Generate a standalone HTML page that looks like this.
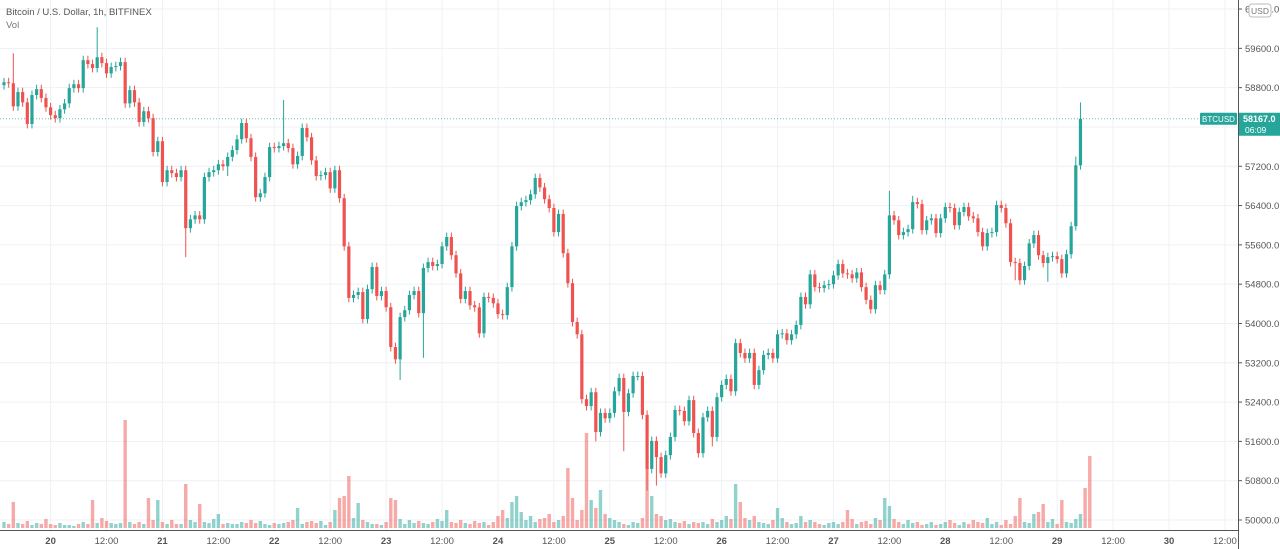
<!DOCTYPE html>
<html><head><meta charset="utf-8"><style>
html,body{margin:0;padding:0;background:#fff;width:1280px;height:549px;overflow:hidden;font-family:"Liberation Sans",sans-serif;}
svg{display:block}
</style></head><body>
<svg id="chart" width="1280" height="549" xmlns="http://www.w3.org/2000/svg"></svg>
<script>
// ---- data ----
const closes = [
58910,58890,58420,58710,58500,58060,58650,58770,58590,58400,58240,58180,58360,58480,58790,58870,58790,59360,59280,59200,59420,59300,59090,59220,59240,59320,58480,58750,58500,58100,58320,58180,57490,57710,56880,57120,57060,56980,57120,55940,56120,56200,56120,56980,57080,57120,57240,57200,57390,
57530,57750,58080,57770,57390,56570,56650,56980,57590,57570,57610,57670,57570,57240,57410,57980,57790,57320,57000,57020,57080,56750,57120,56550,55570,54520,54580,54640,54090,54700,55150,54560,54660,54330,53520,53270,54130,54270,54580,54660,54210,55130,55250,55170,55210,55570,55760,55390,55020,
54500,54660,54370,54330,53800,54540,54520,54410,54190,54170,54740,55570,56390,56470,56510,56630,56960,56770,56530,56350,55860,56230,55430,54820,54030,53780,52460,52320,52600,51790,52180,52070,52180,52620,52890,52200,52580,52930,52930,52140,51040,51610,51280,50950,51320,51690,52240,52220,
52010,52440,51770,51360,52090,52220,51690,52500,52750,52870,52620,53600,53400,53290,53400,52750,53050,53360,53400,53290,53780,53800,53660,53780,53970,54540,54390,55000,54740,54720,54780,54800,54980,55210,55020,55000,54920,55040,54740,54480,54290,54780,54680,55000,56200,56100,55800,55860,55920,
56470,56430,55900,56100,56140,55840,56140,56370,56350,56000,56270,56370,56180,56140,55860,55570,55840,55860,56410,56350,56040,55250,55230,54880,55170,55630,55800,55390,55230,55350,55370,55310,55020,55410,55980,57220,58167
];
const firstOpen = 58850;
const notableHighs = {2:59500,20:60030,18:59450,60:58550,190:56700,195:56600,231:58500,230:57400};
const notableLows = {39:55350,48:57000,85:52850,90:53300,127:51600,133:51400,138:50600,140:50700,152:51500,217:54880,224:54850};
const volumes = [
6,4,26,5,4,7,3,5,4,9, 4,3,5,3,3,2,4,6,4,28, 5,10,7,5,4,5,108,6,4,6,
4,30,8,28,6,4,8,4,4,44, 8,6,24,6,5,9,14,4,5,4, 4,6,5,8,5,7,4,3,5,4,
5,6,8,20,4,6,7,5,7,3, 6,18,30,32,52,10,25,8,6,4, 4,3,6,30,28,9,4,8,5,7,
5,4,6,9,7,18,6,5,8,5, 4,7,5,6,3,6,12,18,10,26, 32,16,8,12,6,9,10,14,6,8,
12,60,30,8,18,95,28,20,38,14, 10,8,6,4,3,6,5,10,60,32, 14,12,8,9,6,5,7,4,6,5,
6,4,9,6,8,12,9,44,26,10, 8,12,6,5,4,8,20,10,6,4, 5,12,6,8,6,4,3,5,6,4,
6,18,9,4,6,7,4,10,8,30, 22,9,6,4,8,5,6,3,4,6, 3,4,6,8,5,3,6,4,8,6,
5,10,4,6,3,8,4,12,30,6, 5,14,16,24,6,9,4,28,6,5, 9,14,40,72
];
const priceTicks = [50000,50800,51600,52400,53200,54000,54800,55600,56400,57200,58000,58800,59600,60400];
const timeLabels = ["20","12:00","21","12:00","22","12:00","23","12:00","24","12:00","25","12:00","26","12:00","27","12:00","28","12:00","29","12:00","30","12:00"];
const lastPrice = 58167.0;

// ---- scales ----
const X0 = 4, STEP = 4.66, FIRST_HOUR_OFFSET = 10;
const PLOT_R = 1238;
function xS(i){ return X0 + i*STEP; }
function yS(p){ return 520 - (p-50000)*0.04913; }
const VOL_BASE = 528, VOL_PX = 1.0;
function vS(v){ return v*VOL_PX; }

const NS="http://www.w3.org/2000/svg";
const svg=document.getElementById('chart');
function mk(tag,attrs,parent){const e=document.createElementNS(NS,tag);for(const k in attrs)e.setAttribute(k,attrs[k]);(parent||svg).appendChild(e);return e;}

// grid
const grid=mk('g',{});


priceTicks.forEach(p=>{
  const l=mk('line',{x1:0,x2:PLOT_R,y1:yS(p),y2:yS(p),stroke:'#eef1f6','stroke-width':1},grid);
  
  
});
timeLabels.forEach((t,k)=>{
  const x=xS(FIRST_HOUR_OFFSET+k*12);
  const l=mk('line',{x1:x,x2:x,y1:0,y2:530,stroke:'#eef1f6','stroke-width':1},grid);
  
  
});

// volume
const vg=mk('g',{});


volumes.forEach((v,i)=>{
  const o=i===0?firstOpen:closes[i-1], c=closes[i];
  const h=vS(v);
  const r=mk('rect',{x:xS(i)-1.7,y:VOL_BASE-h,width:3.4,height:h,fill:c>=o?'rgba(38,166,154,0.5)':'rgba(239,83,80,0.5)'},vg);
  
  
});

// last price line
const lp=mk('line',{x1:0,x2:PLOT_R,y1:yS(lastPrice),y2:yS(lastPrice),stroke:'#26a69a','stroke-width':1,'stroke-dasharray':'1,2',opacity:0.7});



// candles
const cg=mk('g',{});


closes.forEach((c,i)=>{
  const o=i===0?firstOpen:closes[i-1];
  const up=c>=o, col=up?'#26a69a':'#ef5350';
  const hi=notableHighs[i]!==undefined?notableHighs[i]:Math.max(o,c)+90;
  const lo=notableLows[i]!==undefined?notableLows[i]:Math.min(o,c)-90;
  const x=xS(i);
  const w=mk('line',{x1:x,x2:x,y1:yS(hi),y2:yS(lo),stroke:col,'stroke-width':1},cg);
  
  
  const top=yS(Math.max(o,c)), bot=yS(Math.min(o,c));
  const b=mk('rect',{x:x-1.6,y:top,width:3.2,height:Math.max(1,bot-top),fill:col},cg);
  
  
});

// axes
const ax=mk('line',{x1:PLOT_R+0.5,x2:PLOT_R+0.5,y1:0,y2:549,stroke:'#555','stroke-width':1});


const tx=mk('line',{x1:0,x2:PLOT_R,y1:530.5,y2:530.5,stroke:'#555','stroke-width':1});


priceTicks.forEach(p=>{
  const t=mk('text',{x:PLOT_R+7,y:yS(p)+3.5,'font-size':'9.5',fill:'#555'});
  t.textContent=p.toFixed(1);
  
  
  mk('line',{x1:PLOT_R,x2:PLOT_R+4,y1:yS(p),y2:yS(p),stroke:'#555'});
});
timeLabels.forEach((s,k)=>{
  const t=mk('text',{x:xS(FIRST_HOUR_OFFSET+k*12),y:544,'font-size':'9.5',fill:'#555','text-anchor':'middle','font-weight':s.length<3?'bold':'normal'});
  t.textContent=s;
  
  
});

// last price badge
const ly=yS(lastPrice);
const bg=mk('g',{});


mk('rect',{x:1200,y:ly-6,width:37,height:12,fill:'#26a69a',rx:1},bg);
const bt=mk('text',{x:1218.5,y:ly+3,'font-size':'8',fill:'#fff','text-anchor':'middle'},bg);
bt.textContent='BTCUSD';
mk('rect',{x:1239,y:ly-6,width:41,height:23,fill:'#26a69a'},bg);
const pt=mk('text',{x:1243,y:ly+3,'font-size':'9',fill:'#fff','font-weight':'bold'},bg);
pt.textContent=lastPrice.toFixed(1);
const tt=mk('text',{x:1245,y:ly+14,'font-size':'8.5',fill:'#fff'},bg);
tt.textContent='06:09';

// USD badge
const ub=mk('rect',{x:1249,y:4,width:22,height:13,fill:'#fff',stroke:'#bbb',rx:3});


const ut=mk('text',{x:1260,y:14,'font-size':'8.5',fill:'#777','text-anchor':'middle'});
ut.textContent='USD';

// titles
const t1=mk('text',{x:6,y:15,'font-size':'9.5',fill:'#555'});
t1.textContent='Bitcoin / U.S. Dollar, 1h, BITFINEX';


const t2=mk('text',{x:6,y:28,'font-size':'9.5',fill:'#777'});
t2.textContent='Vol';


</script>
</body></html>
